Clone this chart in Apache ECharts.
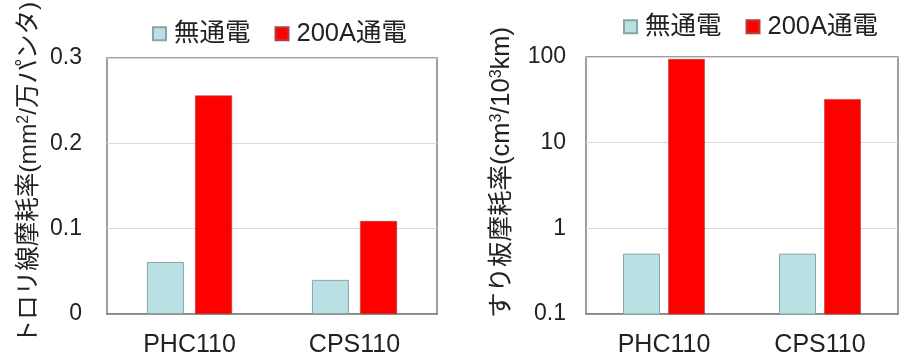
<!DOCTYPE html>
<html><head><meta charset="utf-8">
<script src="https://cdn.jsdelivr.net/npm/echarts@6/dist/echarts.min.js"></script>
<style>html,body{margin:0;padding:0;background:#fff}#c{width:913px;height:363px}</style>
</head><body><div id="c"></div>
<script>
var categories = ['PHC110', 'CPS110'];
var seriesNames = ['無通電', '200A通電'];
var trolleyNone = [0.061, 0.040];
var trolley200A = [0.256, 0.109];
var stripNone = [0.50, 0.50];
var strip200A = [94, 32];
var leftTicks = [0, 0.1, 0.2, 0.3];
var rightTicks = [0.1, 1, 10, 100];

var FONT = '"Liberation Sans", Arial, "Noto Sans CJK JP", sans-serif';
var TXT = '#222';
var CYAN = '#b9e0e3', CYAN_B = '#8aa5a8', RED = '#ff0000', RED_B = '#b04040';

var chart = echarts.init(document.getElementById('c'));
function catAxis(gi) {
  return {
    type: 'category', gridIndex: gi, data: categories,
    axisTick: {show: false},
    axisLine: {lineStyle: {color: '#7f7f7f', width: 1.5}},
    axisLabel: {fontSize: 25, color: TXT, fontFamily: FONT, margin: 19}
  };
}
var nameRich = {
  sup: {fontSize: 16, fontFamily: FONT, color: TXT, padding: [0, 0, 10, 0]}
};
function pairs(arr) { return arr.map(function (v, i) { return [i, v]; }); }
function logBar(shift, fill, stroke, lw) {
  return function (params, api) {
    var top = api.coord([api.value(0), api.value(1)]);
    var base = api.coord([api.value(0), rightTicks[0]]);
    var w = 36;
    return {
      type: 'rect',
      shape: {x: top[0] + shift - w / 2, y: top[1], width: w, height: base[1] - top[1]},
      style: {fill: fill, stroke: stroke, lineWidth: lw}
    };
  };
}
var legendText = {fontSize: 25.5, color: TXT, fontFamily: FONT, padding: [0, 0, 0, 3]};
chart.setOption({
  animation: false,
  textStyle: {fontFamily: FONT},
  grid: [
    {left: 107, top: 58, width: 330, height: 256, show: true, borderColor: '#7f7f7f', borderWidth: 1.5, backgroundColor: '#fff', containLabel: false, outerBoundsMode: 'none'},
    {left: 586, top: 57, width: 312, height: 257, show: true, borderColor: '#7f7f7f', borderWidth: 1.5, backgroundColor: '#fff', containLabel: false, outerBoundsMode: 'none'}
  ],
  legend: [
    {left: 152, top: 21, padding: 0, icon: 'rect', itemWidth: 13, itemHeight: 13, itemGap: 24, data: seriesNames, textStyle: legendText},
    {left: 623, top: 14, padding: 0, icon: 'rect', itemWidth: 13, itemHeight: 13, itemGap: 24, data: seriesNames, textStyle: legendText}
  ],
  xAxis: [catAxis(0), catAxis(1)],
  yAxis: [
    {type: 'value', gridIndex: 0, min: leftTicks[0], max: leftTicks[leftTicks.length - 1], interval: 0.1,
     axisLine: {show: false}, axisTick: {show: false},
     splitLine: {lineStyle: {color: '#d9d9d9', width: 1}},
     axisLabel: {fontSize: 23, color: TXT, fontFamily: FONT, margin: 25},
     name: 'トロリ線摩耗率(mm{sup|2}/万パンタ)', nameLocation: 'middle', nameRotate: 90, nameGap: 65,
     nameTextStyle: {fontSize: 24.5, color: TXT, fontFamily: FONT, rich: nameRich, padding: [0, 0, 0, 26]}},
    {type: 'log', logBase: 10, gridIndex: 1, min: rightTicks[0], max: rightTicks[rightTicks.length - 1],
     axisLine: {show: false}, axisTick: {show: false},
     splitLine: {lineStyle: {color: '#d9d9d9', width: 1}},
     axisLabel: {fontSize: 23, color: TXT, fontFamily: FONT, margin: 20},
     name: 'すり板摩耗率(cm{sup|3}/10{sup|3}km)', nameLocation: 'middle', nameRotate: 90, nameGap: 71,
     nameTextStyle: {fontSize: 25.5, color: TXT, fontFamily: FONT, rich: nameRich, padding: [0, 0, 0, 26]}}
  ],
  series: [
    {name: seriesNames[0], type: 'bar', xAxisIndex: 0, yAxisIndex: 0, data: trolleyNone, barWidth: 37, barGap: '30%',
     itemStyle: {color: CYAN, borderColor: CYAN_B, borderWidth: 1}},
    {name: seriesNames[1], type: 'bar', xAxisIndex: 0, yAxisIndex: 0, data: trolley200A, barWidth: 37, barGap: '30%',
     itemStyle: {color: RED, borderColor: RED_B, borderWidth: 0.6}},
    {name: seriesNames[0], type: 'custom', xAxisIndex: 1, yAxisIndex: 1, data: pairs(stripNone),
     encode: {x: 0, y: 1}, renderItem: logBar(-22.5, CYAN, CYAN_B, 1),
     itemStyle: {color: CYAN, borderColor: CYAN_B, borderWidth: 1}},
    {name: seriesNames[1], type: 'custom', xAxisIndex: 1, yAxisIndex: 1, data: pairs(strip200A),
     encode: {x: 0, y: 1}, renderItem: logBar(22.5, RED, RED_B, 0.6),
     itemStyle: {color: RED, borderColor: RED_B, borderWidth: 0.6}}
  ]
});
</script></body></html>
